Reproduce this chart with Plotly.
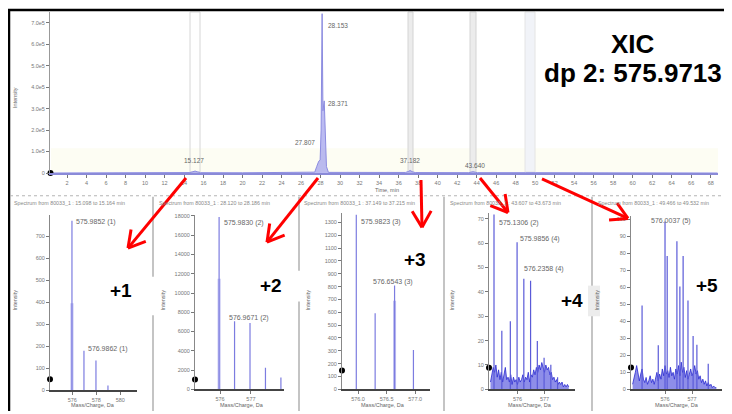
import math
import plotly.graph_objects as go

W, H = 732, 414
OFF = 8  # page body margin offset
def px(x): return (x - OFF) / W
def py(y): return 1 - (y - OFF) / H

# ---------------- data ----------------
# XIC (time in min, intensity in counts)
xic_time = [0.3, 5.0, 10.0, 14.6, 14.9, 15.13, 15.4, 15.7, 20.0, 25.0, 27.4, 27.6, 27.81,
            27.95, 28.05, 28.153, 28.24, 28.371, 28.47, 28.6, 28.8, 32.0, 36.7, 37.0,
            37.182, 37.4, 37.7, 43.2, 43.45, 43.64, 43.85, 44.1, 49.0, 49.5, 50.0, 55.0,
            60.0, 65.0, 68.7]
xic_int = [0, 1000, 1500, 2000, 6000, 9000, 5000, 1500, 1000, 1500, 4000, 30000, 55000,
           60000, 200000, 742000, 290000, 336000, 150000, 30000, 3000, 1500, 2500, 7000,
           12000, 6000, 2000, 1500, 4000, 6000, 3500, 1500, 1500, 2500, 1500, 1000,
           1000, 800, 0]
xic_ticks = list(range(2, 69, 2))
xic_yticks = [0, 100000, 200000, 300000, 400000, 500000, 600000, 700000]
xic_yticklabels = ["0", "1.0e5", "2.0e5", "3.0e5", "4.0e5", "5.0e5", "6.0e5", "7.0e5"]
xic_peak_labels = ["28.153", "28.371", "27.807", "15.127", "37.182", "43.640"]
xic_zero = [0.3, 0]

# spectra (m/z, intensity)
p1_mz = [575.97, 576.97, 577.97, 578.97]
p1_int = [770, 180, 135, 22]
p1_prof = [395, 0, 0, 0]
p2_mz = [575.97, 576.47, 576.97, 577.47, 577.97]
p2_int = [17900, 7080, 6900, 2250, 1230]
p2_prof = [11490, 0, 0, 0, 0]
p3_mz = [575.97, 576.30, 576.64, 576.97]
p3_int = [1360, 592, 808, 307]
p3_prof = [0, 0, 690, 0]
p4_mz = [575.13, 575.42, 575.735, 575.985, 576.235, 576.485, 576.735, 576.985, 577.235, 577.485]
p4_int = [71.7, 24, 27.9, 60.3, 45.3, 44.5, 19.8, 13, 10.1, 5]
p4_noise_mz = [575.00, 575.05, 575.10, 575.15, 575.20, 575.25, 575.30, 575.35, 575.40, 575.45,
               575.50, 575.55, 575.60, 575.65, 575.70, 575.75, 575.80, 575.85, 575.90, 575.95,
               576.00, 576.05, 576.10, 576.15, 576.20, 576.25, 576.30, 576.35, 576.40, 576.45,
               576.50, 576.55, 576.60, 576.65, 576.70, 576.75, 576.80, 576.85, 576.90, 576.95,
               577.00, 577.05, 577.10, 577.15, 577.20, 577.25, 577.30, 577.35, 577.40, 577.45,
               577.50, 577.55, 577.60, 577.65, 577.70, 577.75, 577.80, 577.85, 577.90]
p4_noise = [3, 6, 9, 7, 10, 5, 8, 4, 7, 3, 6, 9, 4, 5, 3, 6, 2, 5, 3, 4, 2, 5, 3, 4, 6, 3, 5,
            4, 7, 3, 6, 5, 8, 6, 9, 7, 10, 8, 11, 9, 7, 10, 8, 9, 6, 7, 4, 5, 3, 4, 2, 3, 2,
            3, 1, 2, 1, 2, 1]
p5_mz = [575.15, 575.75, 576.00, 576.08, 576.44, 576.55, 576.67, 576.85, 577.04, 577.18, 577.60]
p5_int = [49.4, 26, 98.8, 78.5, 87.2, 60.5, 78.5, 52.3, 31.4, 26.2, 15]
p5_noise_mz = [574.80, 574.85, 574.90, 574.95, 575.00, 575.05, 575.10, 575.15, 575.20, 575.25,
               575.30, 575.35, 575.40, 575.45, 575.50, 575.55, 575.60, 575.65, 575.70, 575.75,
               575.80, 575.85, 575.90, 575.95, 576.00, 576.05, 576.10, 576.15, 576.20, 576.25,
               576.30, 576.35, 576.40, 576.45, 576.50, 576.55, 576.60, 576.65, 576.70, 576.75,
               576.80, 576.85, 576.90, 576.95, 577.00, 577.05, 577.10, 577.15, 577.20, 577.25,
               577.30, 577.35, 577.40, 577.45, 577.50, 577.55, 577.60, 577.65, 577.70, 577.75,
               577.80, 577.85, 577.90]
p5_noise = [3, 6, 10, 14, 8, 5, 9, 12, 6, 4, 7, 3, 5, 8, 4, 6, 3, 7, 10, 5, 9, 6, 12, 8, 14,
            9, 11, 7, 13, 8, 10, 6, 12, 9, 14, 8, 16, 10, 13, 7, 11, 6, 9, 12, 8, 10, 14, 9,
            11, 6, 8, 4, 6, 3, 5, 2, 4, 2, 3, 1, 2, 1, 1]

p_zero = [(574.14, 50), (575.19, 1025), (575.72, 146), (574.945, 8.9), (574.74, 12.8)]

p_labels = [
    [("575.9852 (1)", 96, 223), ("576.9862 (1)", 108, 351)],
    [("575.9830 (2)", 244, 224), ("576.9671 (2)", 249, 320)],
    [("575.9823 (3)", 381, 223), ("576.6543 (3)", 393, 283)],
    [("575.1306 (2)", 519, 224), ("575.9856 (4)", 540, 240), ("576.2358 (4)", 544, 270)],
    [("576.0037 (5)", 671, 222)],
]
p_titles = [
    "Spectrum from 80033_1 : 15.098 to 15.164 min",
    "Spectrum from 80033_1 : 28.120 to 28.186 min",
    "Spectrum from 80033_1 : 37.149 to 37.215 min",
    "Spectrum from 80033_1 : 43.607 to 43.673 min",
    "Spectrum from 80033_1 : 49.466 to 49.532 min",
]
charges = ["+1", "+2", "+3", "+4", "+5"]

# ---------------- layout geometry (pixels) ----------------
panels = [
    dict(x=(50, 137), y=(215, 393), xr=[574.14, 581.39], xt=[576, 578, 580], xtt=["576", "578", "580"],
         yr=[0, 798], yt=list(range(0, 701, 100))),
    dict(x=(195, 284), y=(215, 392), xr=[575.19, 578.07], xt=[576, 577], xtt=["576", "577"],
         yr=[0, 18150], yt=list(range(0, 18001, 2000))),
    dict(x=(342, 430), y=(213, 392), xr=[575.72, 577.26], xt=[576.0, 576.5, 577.0], xtt=["576.0", "576.5", "577.0"],
         yr=[0, 1377], yt=list(range(0, 1301, 100))),
    dict(x=(489, 575), y=(213, 392), xr=[574.945, 578.13], xt=[576, 577], xtt=["576", "577"],
         yr=[0, 72.5], yt=list(range(0, 71, 10))),
    dict(x=(631, 722), y=(217, 392), xr=[574.74, 578.11], xt=[576, 577], xtt=["576", "577"],
         yr=[0, 101.7], yt=list(range(0, 101, 10))),
]

FONT = "Liberation Sans, Arial, sans-serif"
fig = go.Figure()

def sticks(mz, inten):
    xs, ys = [], []
    for m, v in zip(mz, inten):
        if v > 0:
            xs += [m, m, None]
            ys += [0, v, None]
    return xs, ys

# XIC
fig.add_trace(go.Scatter(x=xic_time, y=xic_int, mode="lines", line=dict(color="#8c8ce0", width=1),
                         fill="tozeroy", fillcolor="rgba(150,150,235,0.65)", xaxis="x", yaxis="y",
                         hoverinfo="skip"))
fig.add_trace(go.Scatter(x=[xic_zero[0]], y=[xic_zero[1]], mode="markers",
                         marker=dict(color="black", size=6), xaxis="x", yaxis="y", cliponaxis=False))

series = [(p1_mz, p1_int, p1_prof, None, None), (p2_mz, p2_int, p2_prof, None, None),
          (p3_mz, p3_int, p3_prof, None, None), (p4_mz, p4_int, None, p4_noise_mz, p4_noise),
          (p5_mz, p5_int, None, p5_noise_mz, p5_noise)]
for i, (mz, inten, prof, nmz, nint) in enumerate(series):
    xa, ya = f"x{i+2}", f"y{i+2}"
    if nmz is not None:
        fig.add_trace(go.Scatter(x=nmz, y=nint, mode="lines", line=dict(color="#2a2ad0", width=0.8),
                                 fill="tozeroy", fillcolor="rgba(50,50,215,0.55)",
                                 xaxis=xa, yaxis=ya, hoverinfo="skip"))
    if prof is not None:
        sx, sy = sticks(mz, prof)
        fig.add_trace(go.Scatter(x=sx, y=sy, mode="lines", line=dict(color="rgba(140,140,230,0.55)", width=3),
                                 xaxis=xa, yaxis=ya, hoverinfo="skip"))
    sx, sy = sticks(mz, inten)
    fig.add_trace(go.Scatter(x=sx, y=sy, mode="lines",
                             line=dict(color="#7c7ce0" if i < 3 else "#5a5ad8", width=1.2),
                             xaxis=xa, yaxis=ya, hoverinfo="skip"))
    zx, zy = p_zero[i]
    fig.add_trace(go.Scatter(x=[zx], y=[zy], mode="markers", marker=dict(color="black", size=6),
                             xaxis=xa, yaxis=ya, cliponaxis=False))

axis_common = dict(showline=True, linecolor="#555", linewidth=1, ticks="outside", ticklen=3,
                   tickcolor="#777", tickfont=dict(size=5.5, color="#777", family=FONT),
                   showgrid=False, zeroline=False, fixedrange=True)

layout = dict(
    width=W, height=H, margin=dict(l=0, r=0, t=0, b=0), paper_bgcolor="white",
    plot_bgcolor="rgba(0,0,0,0)", showlegend=False, font=dict(family=FONT),
    xaxis=dict(axis_common, domain=[px(50), px(718)], range=[0.25, 68.75], tickvals=xic_ticks,
               linecolor="#8a8ad8", linewidth=2, anchor="y"),
    yaxis=dict(axis_common, domain=[py(173), py(10)], range=[0, 750000], tickvals=xic_yticks,
               ticktext=xic_yticklabels, linecolor="#999", anchor="x"),
)
for i, p in enumerate(panels):
    n = i + 2
    layout[f"xaxis{n}"] = dict(axis_common, domain=[px(p["x"][0]), px(p["x"][1])], range=p["xr"],
                               tickvals=p["xt"], ticktext=p["xtt"], anchor=f"y{n}", linecolor="#444",
                               linewidth=1.5)
    layout[f"yaxis{n}"] = dict(axis_common, domain=[py(p["y"][1]), py(p["y"][0])], range=p["yr"],
                               tickvals=p["yt"], ticktext=[str(v) for v in p["yt"]],
                               anchor=f"x{n}", linecolor="#888")
fig.update_layout(**layout)

shapes = []
def pline(x0, y0, x1, y1, color, width, dash="solid", layer="above"):
    shapes.append(dict(type="line", xref="paper", yref="paper", x0=px(x0), y0=py(y0), x1=px(x1),
                       y1=py(y1), line=dict(color=color, width=width, dash=dash), layer=layer))
def prect(x0, y0, x1, y1, fill, line="rgba(0,0,0,0)", layer="below", lw=1):
    shapes.append(dict(type="rect", xref="paper", yref="paper", x0=px(x0), y0=py(y0), x1=px(x1),
                       y1=py(y1), fillcolor=fill, line=dict(color=line, width=lw), layer=layer))

# light tint near XIC baseline
prect(51, 148, 718, 172, "rgba(253,253,243,1)")
# selection bands in XIC
prect(190, 10, 200, 172, "rgba(255,255,255,0)", "#d6d6d6")
prect(408, 10, 413, 172, "#ececec", "#d4d4d4")
prect(470, 10, 476, 172, "#ececec", "#d4d4d4")
prect(525, 10, 535, 172, "#f1f3f8", "#e4e4e4")

# frame & separators
pline(9, 8, 9, 414, "black", 2.5)
pline(8, 8, 732, 8, "black", 2.5)
pline(10, 196, 732, 196, "#b5b5b5", 1.2, "dot")
for sx in (153, 299, 444, 592):
    pline(sx, 197, sx, 414, "#b0b0b0", 1.5)
# white gaps / boxes behind charge labels
prect(149, 278, 158, 317, "white", layer="above")
prect(240, 272, 302, 303, "white", layer="above")
prect(588, 287, 600, 318, "#ececec", layer="above")
prect(690, 272, 726, 303, "white", layer="above")

# arrows
def arrow(x0, y0, x1, y1, L=19, ang=30):
    dx, dy = x1 - x0, y1 - y0
    d = math.hypot(dx, dy)
    bx, by = -dx / d, -dy / d
    pline(x0, y0, x1, y1, "#ff0000", 3)
    for s in (1, -1):
        a = math.radians(ang * s)
        rx = bx * math.cos(a) - by * math.sin(a)
        ry = bx * math.sin(a) + by * math.cos(a)
        pline(x1, y1, x1 + L * rx, y1 + L * ry, "#ff0000", 3)

arrow(186, 178, 128, 249)
arrow(318, 178, 267, 243)
arrow(421, 180, 422, 228)
arrow(480, 178, 508, 213)
arrow(542, 179, 628, 219)
fig.update_layout(shapes=shapes)

ann = []
def ptext(text, x, y, size, color="#666", bold=False, angle=0, xanchor="center"):
    ann.append(dict(text=f"<b>{text}</b>" if bold else text, x=px(x), y=py(y), xref="paper",
                    yref="paper", showarrow=False, xanchor=xanchor, yanchor="middle", textangle=angle,
                    font=dict(size=size, color=color, family=FONT)))

ptext("XIC", 633, 42, 26, "black", True)
ptext("dp 2: 575.9713", 633, 72, 26, "black", True)
# XIC peak labels
for t, (x, y) in zip(xic_peak_labels, [(338, 24), (338, 103), (305, 142), (194, 160), (410, 160), (475, 165)]):
    ptext(t, x, y, 6.5)
ptext("Time, min", 387, 190, 5.5)
ptext("Intensity", 15, 97, 5.5, angle=-90)

ylab_x = [15, 163, 308, 452, 597]
xlab_x = [93, 242, 383, 530, 677]
title_x = [12, 157, 302, 448, 596]
for i in range(5):
    ptext(p_titles[i], title_x[i], 203, 5.3, "#888", xanchor="left")
    ptext("Intensity", ylab_x[i], 302, 5.5, angle=-90)
    ptext("Mass/Charge, Da", xlab_x[i], 408, 5.5)
    for t, x, y in p_labels[i]:
        ptext(t, x, y, 7, "#666")

for t, (x, y) in zip(charges, [(121, 292), (271, 287), (415, 261), (572, 302), (707, 287)]):
    ptext(t, x, y, 19, "black", True)

fig.update_layout(annotations=ann)
fig.write_html("out.html")
